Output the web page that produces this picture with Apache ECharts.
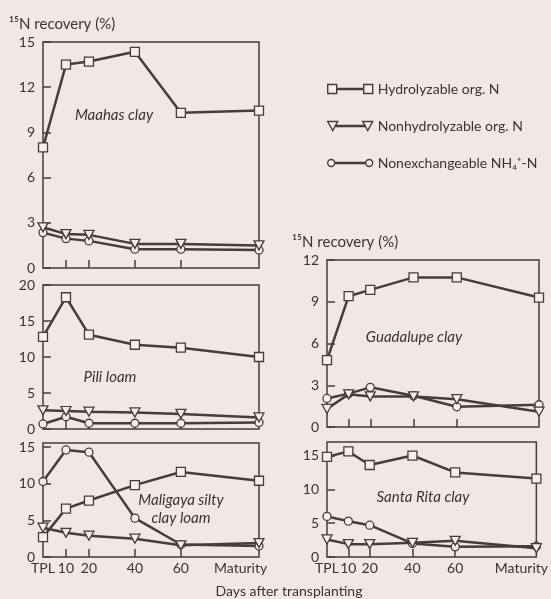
<!DOCTYPE html>
<html>
<head>
<meta charset="utf-8">
<script src="https://cdn.jsdelivr.net/npm/echarts@6/dist/echarts.min.js"></script>
<style>
  html, body { margin: 0; padding: 0; background: #f1e7e5; }
  #chart { width: 551px; height: 599px; }
</style>
</head>
<body>
<div id="chart"></div>
<script>
// sampling days; the maturity point sits at the end of each x axis
const dayValues = [0, 10, 20, 40, 60];
const dayTicks = [10, 20, 40, 60];
const maturityLeft = 94;
const maturityRight = 98;

const seriesNames = ['Hydrolyzable org. N', 'Nonhydrolyzable org. N', 'Nonexchangeable NH\u2084\u207A-N'];

// 15N recovery (%) at TPL, 10, 20, 40, 60 days, maturity
const maahasHydro = [8.0, 13.5, 13.7, 14.35, 10.3, 10.45];
const maahasNonhydro = [2.7, 2.25, 2.2, 1.6, 1.6, 1.5];
const maahasNh4 = [2.35, 1.95, 1.8, 1.25, 1.25, 1.2];

const piliHydro = [12.8, 18.3, 13.1, 11.7, 11.3, 10.0];
const piliNonhydro = [2.6, 2.5, 2.4, 2.3, 2.1, 1.6];
const piliNh4 = [0.7, 1.7, 0.8, 0.8, 0.8, 0.9];

const maligayaHydro = [2.7, 6.6, 7.7, 9.8, 11.6, 10.4];
const maligayaNonhydro = [4.0, 3.3, 2.9, 2.5, 1.6, 1.9];
const maligayaNh4 = [10.3, 14.6, 14.3, 5.3, 1.7, 1.5];

const guadalupeHydro = [4.8, 9.4, 9.85, 10.75, 10.75, 9.3];
const guadalupeNonhydro = [1.3, 2.35, 2.2, 2.2, 2.0, 1.1];
const guadalupeNh4 = [2.05, 2.4, 2.85, 2.25, 1.45, 1.6];

const santaRitaHydro = [14.8, 15.6, 13.6, 15.0, 12.5, 11.6];
const santaRitaNonhydro = [2.6, 1.9, 1.9, 2.1, 2.4, 1.3];
const santaRitaNh4 = [6.0, 5.3, 4.7, 2.0, 1.5, 1.6];

// y tick labels per panel
const maahasYTicks = [0, 3, 6, 9, 12, 15];
const piliYTicks = [0, 5, 10, 15, 20];
const maligayaYTicks = [0, 5, 10, 15];
const guadalupeYTicks = [0, 3, 6, 9, 12];
const santaRitaYTicks = [0, 5, 10, 15];

const ink = '#4a3b3a';
const textInk = '#3b3232';
const paper = '#f1e7e5';
const font = 'Lato, "Noto Sans", sans-serif';

const panels = [
  { grid: { left: 43, top: 42, width: 216, height: 226 }, yMax: 15, yTicks: maahasYTicks, xMax: maturityLeft, labels: false,
    data: [maahasHydro, maahasNonhydro, maahasNh4] },
  { grid: { left: 43, top: 285, width: 216, height: 144 }, yMax: 20, yTicks: piliYTicks, xMax: maturityLeft, labels: false,
    data: [piliHydro, piliNonhydro, piliNh4] },
  { grid: { left: 43, top: 443, width: 216, height: 114 }, yMax: 15.55, yTicks: maligayaYTicks, xMax: maturityLeft, labels: true, matLabelAt: 86,
    data: [maligayaHydro, maligayaNonhydro, maligayaNh4] },
  { grid: { left: 327, top: 260, width: 212, height: 167 }, yMax: 12, yTicks: guadalupeYTicks, xMax: maturityRight, labels: false,
    data: [guadalupeHydro, guadalupeNonhydro, guadalupeNh4] },
  { grid: { left: 327, top: 442, width: 212, height: 115 }, yMax: 17, yTicks: santaRitaYTicks, xMax: maturityRight, labels: true, matLabelAt: 91,
    data: [santaRitaHydro, santaRitaNonhydro, santaRitaNh4] },
];

const symbols = [
  { symbol: 'rect', symbolSize: 9, symbolRotate: 0 },
  { symbol: 'triangle', symbolSize: [10, 9], symbolRotate: 180 },
  { symbol: 'circle', symbolSize: 8, symbolRotate: 0 },
];

const chart = echarts.init(document.getElementById('chart'), null, { renderer: 'canvas' });

const grids = [];
const xAxes = [];
const yAxes = [];
const series = [];

panels.forEach((p, i) => {
  grids.push(Object.assign({ show: true, borderColor: ink, borderWidth: 1.5, backgroundColor: 'transparent' }, p.grid));

  const matLabel = p.matLabelAt;
  xAxes.push({
    type: 'value',
    gridIndex: i,
    min: 0,
    max: p.xMax,
    axisLine: { show: false },
    splitLine: { show: false },
    axisTick: { show: true, inside: true, length: 8, customValues: dayTicks, lineStyle: { color: ink, width: 1.5 } },
    axisLabel: p.labels ? {
      show: true,
      customValues: dayValues.concat([matLabel]),
      margin: 4,
      color: textInk,
      fontFamily: font,
      fontSize: 14,
      formatter: v => (v === 0 ? 'TPL' : v === matLabel ? 'Maturity' : String(v)),
    } : { show: false },
  });

  yAxes.push({
    type: 'value',
    gridIndex: i,
    min: 0,
    max: p.yMax,
    axisLine: { show: false },
    splitLine: { show: false },
    axisTick: { show: true, inside: true, length: 8, customValues: p.yTicks, lineStyle: { color: ink, width: 1.5 } },
    axisLabel: { customValues: p.yTicks, margin: 8, color: textInk, fontFamily: font, fontSize: 14 },
  });

  const days = dayValues.concat([p.xMax]);
  p.data.forEach((vals, k) => {
    series.push(Object.assign({
      name: seriesNames[k],
      type: 'line',
      xAxisIndex: i,
      yAxisIndex: i,
      data: vals.map((v, j) => [days[j], v]),
      lineStyle: { color: ink, width: 2.5 },
      itemStyle: { color: '#f6efed', borderColor: ink, borderWidth: 1.3 },
      showAllSymbol: true,
      clip: false,
      emphasis: { disabled: true },
      z: 3 - k,
    }, symbols[k]));
  });
});

const graphicText = (text, x, y, opts) => ({
  type: 'text',
  x: x,
  y: y,
  style: Object.assign({ text: text, fill: textInk, font: '14px ' + font, align: 'left', verticalAlign: 'middle' }, opts || {}),
});

const italic = 'italic 15px ' + font;

chart.setOption({
  backgroundColor: paper,
  animation: false,
  grid: grids,
  xAxis: xAxes,
  yAxis: yAxes,
  series: series,
  legend: {
    orient: 'vertical',
    left: 322,
    top: 76,
    itemWidth: 45,
    itemHeight: 9,
    itemGap: 21,
    selectedMode: false,
    itemStyle: { color: '#f6efed', borderColor: ink, borderWidth: 1.4 },
    textStyle: { color: textInk, fontFamily: font, fontSize: 14, lineHeight: 16 },
    data: [
      { name: seriesNames[0], icon: 'path://M0,0H9V9H0ZM9,4H36V5H9ZM36,0H45V9H36Z' },
      { name: seriesNames[1], icon: 'path://M0,0H10L5,9ZM7.5,4H37.5V5H7.5ZM35,0H45L40,9Z' },
      { name: seriesNames[2], icon: 'path://M0,4.5A3.5,3.5,0,1,1,7,4.5A3.5,3.5,0,1,1,0,4.5ZM7,4H38V5H7ZM38,4.5A3.5,3.5,0,1,1,45,4.5A3.5,3.5,0,1,1,38,4.5Z' },
    ],
  },
  graphic: [
    graphicText('\u00B9\u2075N recovery (%)', 9, 24, { font: '15px ' + font }),
    graphicText('\u00B9\u2075N recovery (%)', 292, 242, { font: '15px ' + font }),
    graphicText('Maahas clay', 114, 115, { align: 'center', font: italic }),
    graphicText('Pili loam', 110, 377, { align: 'center', font: italic }),
    graphicText('Maligaya silty\nclay loam', 181, 509, { align: 'center', font: italic, lineHeight: 18 }),
    graphicText('Guadalupe clay', 414, 337, { align: 'center', font: italic }),
    graphicText('Santa Rita clay', 423, 497, { align: 'center', font: italic }),
    graphicText('Days after transplanting', 289, 591, { align: 'center' }),
  ],
});
</script>
</body>
</html>
